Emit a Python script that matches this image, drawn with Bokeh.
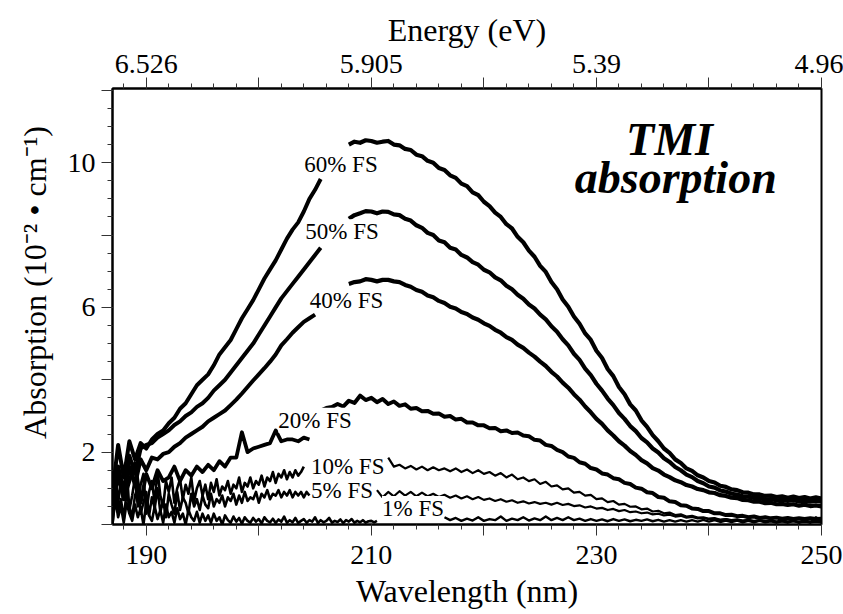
import numpy as np
from bokeh.plotting import figure
from bokeh.models import Range1d, LinearAxis, FixedTicker, Label
from bokeh.embed import file_html
from bokeh.resources import INLINE

# ---------------- data ----------------
# wavelength axis (nm) and its tick labels
x_major = [190, 200, 210, 220, 230, 240, 250]
x_labels = ["190", "", "210", "", "230", "", "250"]
energy_labels = ["6.526", "", "5.905", "", "5.39", "", "4.96"]   # eV at the same ticks
x_minor = list(range(188, 251, 2))
y_major = [0, 2, 4, 6, 8, 10, 12]
y_labels = ["", "2", "", "6", "", "10", ""]
y_minor = [i * 0.5 for i in range(0, 25)]

series_names = ["60% FS", "50% FS", "40% FS", "20% FS", "10% FS", "5% FS", "1% FS"]

# short-wavelength segments: (start nm, end nm, values sampled evenly)
a60_left = (187.0, 205.5, [0.9, 2.2, 1.3, 2.3, 1.8, 2.25, 2.1, 2.35, 2.5, 2.6, 2.8, 2.95, 3.2, 3.35,
                           3.6, 3.85, 4.0, 4.15, 4.4, 4.7, 4.9, 5.1, 5.4, 5.7, 5.95, 6.2, 6.5, 6.8,
                           7.05, 7.3, 7.6, 7.9, 8.15, 8.35, 8.65, 9.0, 9.25, 9.55])
a50_left = (187.0, 205.5, [0.5, 1.6, 0.9, 1.9, 1.4, 2.1, 2.2, 2.25, 2.4, 2.5, 2.6, 2.75, 2.85, 3.0,
                           3.1, 3.25, 3.35, 3.5, 3.7, 3.85, 4.0, 4.2, 4.4, 4.6, 4.8, 5.0, 5.25, 5.5,
                           5.75, 6.0, 6.25, 6.45, 6.65, 6.85, 7.05, 7.25, 7.45, 7.65])
a40_left = (187.0, 205.0, [0.3, 1.4, 0.7, 1.6, 1.1, 1.8, 1.5, 1.85, 1.8, 1.95, 2.0, 2.15, 2.25, 2.4,
                           2.5, 2.6, 2.7, 2.85, 2.95, 3.05, 3.15, 3.3, 3.45, 3.62, 3.8, 3.98, 4.15,
                           4.32, 4.5, 4.7, 4.95, 5.12, 5.3, 5.45, 5.6, 5.7, 5.8])
a20_left = (187.0, 204.5, [0.3, 1.6, 0.7, 1.2, 1.7, 0.6, 1.4, 1.0, 1.5, 1.2, 1.3, 1.6, 1.2, 1.5,
                           1.35, 1.6, 1.45, 1.65, 1.5, 1.75, 1.6, 1.85, 1.85, 2.55, 2.0, 2.1, 2.15,
                           2.2, 2.25, 2.6, 2.3, 2.35, 2.35, 2.3, 2.4, 2.35])
a10_left = (187.0, 204.0, [0.2, 1.5, 0.6, 1.2, 0.9, 1.6, 0.4, 0.8, 1.3, 0.5,
                           1.1, 1.4, 0.3, 0.9, 1.2, 0.6, 1.5, 0.8, 0.5, 1.2,
                           0.9, 1.3, 0.6, 1.0, 1.25, 0.7, 1.1, 0.85, 1.3, 0.65,
                           1.0, 1.2, 0.8, 1.1, 0.7, 1.15, 0.9, 1.25, 0.8, 1.05,
                           0.95, 1.2, 0.85, 1.1, 1.0, 1.3, 0.9, 1.15, 1.05, 1.3,
                           1.0, 1.2, 1.1, 1.35, 1.05, 1.3, 1.2, 1.45, 1.15, 1.4,
                           1.3, 1.5, 1.25, 1.45, 1.3, 1.5, 1.35, 1.45, 1.6])
a5_left = (187.0, 204.5, [0.0, 1.0, 0.4, 0.7, 0.15, 0.9, 0.5, 0.2, 0.8, 1.05,
                          0.3, 0.6, 0.9, 0.25, 0.75, 0.45, 1.0, 0.35, 0.65, 0.2,
                          0.85, 0.55, 0.3, 0.9, 0.4, 0.75, 0.6, 0.3, 0.85, 0.5,
                          0.7, 0.4, 0.8, 0.55, 0.45, 0.85, 0.5, 0.7, 0.6, 0.8,
                          0.5, 0.75, 0.65, 0.85, 0.55, 0.8, 0.6, 0.9, 0.65, 0.75,
                          0.7, 0.9, 0.6, 0.85, 0.75, 0.95, 0.7, 0.85, 0.8, 0.95,
                          0.75, 0.9, 0.8, 0.95, 0.75, 0.9, 0.8, 0.9, 0.75, 0.9,
                          0.8])
a1_left = (187.0, 210.5, [0.0, 0.7, 0.2, 0.5, 0.05, 0.6, 0.3, 0.1, 0.55, 0.2,
                          0.45, 0.0, 0.6, 0.25, 0.1, 0.5, 0.15, 0.4, 0.05, 0.55,
                          0.2, 0.35, 0.05, 0.45, 0.15, 0.3, 0.0, 0.4, 0.2, 0.1,
                          0.35, 0.05, 0.3,
                          0.1, 0.25, 0.05, 0.3, 0.1, 0.2, 0.0, 0.25, 0.12, 0.05,
                          0.22, 0.08, 0.18, 0.02, 0.2, 0.1, 0.05, 0.18, 0.08, 0.15,
                          0.03, 0.2, 0.1, 0.06, 0.16, 0.04, 0.14, 0.08, 0.22, 0.05,
                          0.12, 0.06, 0.18, 0.04, 0.1, 0.15, 0.05, 0.12, 0.08, 0.2,
                          0.04, 0.12, 0.06, 0.1, 0.18, 0.05, 0.1, 0.07, 0.14, 0.04,
                          0.12, 0.08, 0.15, 0.05, 0.1, 0.06, 0.12, 0.05, 0.09, 0.1,
                          0.06, 0.1])

# long-wavelength segments
a60_right = (208.0, 250.0, [10.5, 10.58, 10.55, 10.62, 10.6, 10.55, 10.58, 10.6, 10.5, 10.48,
                            10.38, 10.35, 10.22, 10.18, 10.05, 10.0, 9.85, 9.8, 9.65, 9.58,
                            9.42, 9.35, 9.18, 9.1, 8.92, 8.8, 8.62, 8.5, 8.3, 8.18,
                            7.95, 7.8, 7.57, 7.4, 7.15, 6.98, 6.7, 6.5, 6.22, 6.02,
                            5.75, 5.55, 5.28, 5.1, 4.8, 4.6, 4.3, 4.1, 3.8, 3.6,
                            3.32, 3.15, 2.88, 2.7, 2.47, 2.3, 2.1, 1.98, 1.8, 1.7,
                            1.55, 1.48, 1.36, 1.3, 1.2, 1.16, 1.07, 1.04, 0.97, 0.95,
                            0.89, 0.88, 0.83, 0.83, 0.79, 0.8, 0.76, 0.78, 0.74, 0.77,
                            0.73, 0.76, 0.72, 0.75, 0.72])
a50_right = (208.0, 250.0, [8.45, 8.55, 8.6, 8.66, 8.65, 8.6, 8.65, 8.64, 8.57, 8.55,
                            8.45, 8.4, 8.27, 8.2, 8.06, 8.0, 7.85, 7.8, 7.65, 7.6,
                            7.45, 7.38, 7.25, 7.18, 7.04, 6.97, 6.83, 6.75, 6.6, 6.5,
                            6.35, 6.24, 6.08, 5.97, 5.8, 5.67, 5.48, 5.33, 5.12, 4.95,
                            4.72, 4.55, 4.31, 4.13, 3.89, 3.7, 3.48, 3.3, 3.08, 2.92,
                            2.72, 2.58, 2.39, 2.27, 2.1, 1.99, 1.83, 1.73, 1.59, 1.5,
                            1.38, 1.31, 1.2, 1.14, 1.05, 1.02, 0.94, 0.91, 0.85, 0.83,
                            0.78, 0.77, 0.73, 0.73, 0.69, 0.7, 0.67, 0.68, 0.65, 0.67,
                            0.64, 0.66, 0.63, 0.66, 0.63])
a40_right = (208.0, 250.0, [6.65, 6.7, 6.72, 6.78, 6.76, 6.72, 6.76, 6.76, 6.72, 6.7,
                            6.62, 6.57, 6.48, 6.43, 6.33, 6.28, 6.18, 6.12, 6.02, 5.97,
                            5.87, 5.82, 5.72, 5.66, 5.56, 5.49, 5.38, 5.3, 5.18, 5.1,
                            4.97, 4.88, 4.75, 4.64, 4.5, 4.38, 4.22, 4.09, 3.92, 3.78,
                            3.6, 3.45, 3.26, 3.1, 2.92, 2.78, 2.6, 2.46, 2.3, 2.18,
                            2.03, 1.92, 1.78, 1.69, 1.56, 1.49, 1.38, 1.31, 1.22, 1.17,
                            1.09, 1.05, 0.98, 0.95, 0.89, 0.87, 0.81, 0.79, 0.74, 0.73,
                            0.68, 0.67, 0.63, 0.63, 0.59, 0.6, 0.56, 0.57, 0.54, 0.56,
                            0.52, 0.55, 0.51, 0.53, 0.5])
a20_right = (205.5, 250.0, [3.15, 3.22, 3.25, 3.33, 3.26, 3.42, 3.36, 3.56, 3.44, 3.5,
                            3.38, 3.47, 3.33, 3.4, 3.28, 3.32, 3.2, 3.22, 3.13, 3.14,
                            3.06, 3.07, 2.98, 3.0, 2.9, 2.92, 2.82, 2.82, 2.74, 2.74,
                            2.66, 2.67, 2.58, 2.6, 2.53, 2.54, 2.46, 2.44, 2.34, 2.32,
                            2.2, 2.17, 2.06, 2.0, 1.88, 1.84, 1.72, 1.68, 1.56, 1.52,
                            1.41, 1.38, 1.28, 1.25, 1.15, 1.12, 1.02, 0.99, 0.89, 0.87,
                            0.76, 0.74, 0.64, 0.62, 0.53, 0.52, 0.44, 0.43, 0.37, 0.37,
                            0.31, 0.31, 0.26, 0.27, 0.23, 0.24, 0.2, 0.22, 0.18, 0.2,
                            0.17, 0.19, 0.16, 0.18, 0.15, 0.17, 0.15, 0.17, 0.15, 0.16])
a10_right = (211.5, 250.0, [1.85, 1.6, 1.65, 1.55, 1.62, 1.52, 1.6, 1.5, 1.58, 1.5,
                            1.55, 1.47, 1.55, 1.45, 1.52, 1.42, 1.5, 1.4, 1.45, 1.35,
                            1.42, 1.3, 1.38, 1.25, 1.3, 1.2, 1.25, 1.12, 1.18, 1.05,
                            1.08, 0.97, 1.0, 0.88, 0.9, 0.8, 0.82, 0.7, 0.72, 0.62,
                            0.65, 0.55, 0.57, 0.49, 0.5, 0.42, 0.44, 0.36, 0.38, 0.31,
                            0.33, 0.26, 0.28, 0.22, 0.24, 0.19, 0.2, 0.16, 0.18, 0.13,
                            0.15, 0.11, 0.13, 0.1, 0.12, 0.09, 0.11, 0.08, 0.1, 0.07,
                            0.09, 0.07, 0.09, 0.06, 0.08, 0.06, 0.08, 0.06])
a5_right = (210.5, 250.0, [0.95, 0.75, 0.9, 0.78, 0.92, 0.8, 0.9, 0.78, 0.88, 0.78,
                           0.85, 0.76, 0.82, 0.74, 0.8, 0.72, 0.78, 0.7, 0.76, 0.68,
                           0.72, 0.65, 0.7, 0.63, 0.67, 0.6, 0.64, 0.58, 0.62, 0.57,
                           0.6, 0.55, 0.6, 0.54, 0.57, 0.51, 0.53, 0.47, 0.5, 0.44,
                           0.46, 0.4, 0.43, 0.37, 0.4, 0.34, 0.36, 0.31, 0.33, 0.28,
                           0.3, 0.25, 0.27, 0.22, 0.24, 0.19, 0.21, 0.17, 0.18, 0.15,
                           0.16, 0.13, 0.15, 0.12, 0.14, 0.11, 0.13, 0.1, 0.12, 0.1,
                           0.11, 0.09, 0.11, 0.09, 0.1, 0.08, 0.1, 0.08, 0.1, 0.08])
a1_right = (216.5, 250.0, [0.2, 0.12, 0.18, 0.1, 0.16, 0.11, 0.2, 0.1, 0.15, 0.12,
                           0.22, 0.1, 0.16, 0.12, 0.2, 0.11, 0.17, 0.12, 0.22, 0.12,
                           0.18, 0.12, 0.2, 0.12, 0.16, 0.1, 0.15, 0.1, 0.14, 0.09,
                           0.15, 0.1, 0.14, 0.09, 0.13, 0.1, 0.14, 0.09, 0.13, 0.08,
                           0.12, 0.08, 0.12, 0.08, 0.12, 0.08, 0.13, 0.08, 0.12, 0.07,
                           0.11, 0.07, 0.11, 0.06, 0.1, 0.06, 0.1, 0.06, 0.09, 0.05,
                           0.09, 0.05, 0.1, 0.05, 0.12, 0.05, 0.2, 0.1])

segments = [
    (a60_left, 4.0), (a60_right, 4.2),
    (a50_left, 4.0), (a50_right, 4.2),
    (a40_left, 4.0), (a40_right, 4.2),
    (a20_left, 3.8), (a20_right, 4.0),
    (a10_left, 2.6), (a10_right, 2.2),
    (a5_left, 2.6), (a5_right, 2.2),
    (a1_left, 2.6), (a1_right, 2.4),
]

# label anchors (wavelength, absorption) for the series names
label_pos = [(207.3, 9.94), (207.4, 8.09), (207.8, 6.2), (205.0, 2.88),
             (207.9, 1.61), (207.4, 0.94), (213.7, 0.44)]

FONT = "Liberation Serif"

p = figure(width=843, height=614, output_backend="svg", toolbar_location=None,
           x_range=Range1d(187.0, 250.0), y_range=Range1d(0.0, 12.05))
p.min_border_left = 112
p.min_border_right = 22
p.min_border_top = 88
p.min_border_bottom = 90
p.background_fill_color = "white"
p.border_fill_color = "white"
p.outline_line_color = "black"
p.outline_line_width = 2
p.xgrid.visible = False
p.ygrid.visible = False

for (x0, x1, vals), lw in segments:
    xs = np.linspace(x0, x1, len(vals))
    p.line(xs, vals, line_color="black", line_width=lw, line_join="round")


def style_axis(ax):
    ax.axis_line_color = "black"
    ax.axis_line_width = 2
    ax.major_tick_out = 11
    ax.major_tick_in = 0
    ax.minor_tick_out = 5
    ax.minor_tick_in = 0
    ax.major_tick_line_color = "#333333"
    ax.minor_tick_line_color = "#333333"
    ax.major_tick_line_width = 1
    ax.minor_tick_line_width = 1
    ax.major_label_text_font = FONT
    ax.major_label_text_font_size = "28px"
    ax.major_label_text_color = "black"
    ax.axis_label_text_font = FONT
    ax.axis_label_text_font_size = "32px"
    ax.axis_label_text_font_style = "normal"
    ax.axis_label_text_color = "black"


xb = p.xaxis[0]
xb.ticker = FixedTicker(ticks=x_major, minor_ticks=x_minor)
xb.major_label_overrides = {t: s for t, s in zip(x_major, x_labels)}
xb.axis_label = "Wavelength (nm)"
style_axis(xb)
xb.major_label_standoff = 10
xb.axis_label_standoff = 6

xt = LinearAxis(ticker=FixedTicker(ticks=x_major, minor_ticks=x_minor),
                axis_label="Energy (eV)")
xt.major_label_overrides = {t: s for t, s in zip(x_major, energy_labels)}
style_axis(xt)
xt.major_label_standoff = 5
xt.axis_label_standoff = 4
p.add_layout(xt, "above")

yl = p.yaxis[0]
yl.ticker = FixedTicker(ticks=y_major, minor_ticks=y_minor)
yl.major_label_overrides = {t: s for t, s in zip(y_major, y_labels)}
yl.axis_label = "\u2003\u2002Absorption (10\u207b\u00b2 \u2022 cm\u207b\u00b9)"
style_axis(yl)
yl.major_label_standoff = 6
yl.axis_label_standoff = 12

for name, (lx, ly) in zip(series_names, label_pos):
    p.add_layout(Label(x=lx, y=ly, text=name, text_font=FONT, text_font_size="23px",
                       text_align="center", text_baseline="middle", text_color="black",
                       background_fill_color="white"))

p.add_layout(Label(x=236.5, y=10.64, text="TMI", text_font=FONT, text_font_size="46px",
                   text_font_style="bold italic", text_align="center",
                   text_baseline="alphabetic", text_color="black"))
p.add_layout(Label(x=237.05, y=9.58, text="absorption", text_font=FONT, text_font_size="46px",
                   text_font_style="bold italic", text_align="center",
                   text_baseline="alphabetic", text_color="black"))

open("out.html", "w").write(file_html(p, INLINE))
